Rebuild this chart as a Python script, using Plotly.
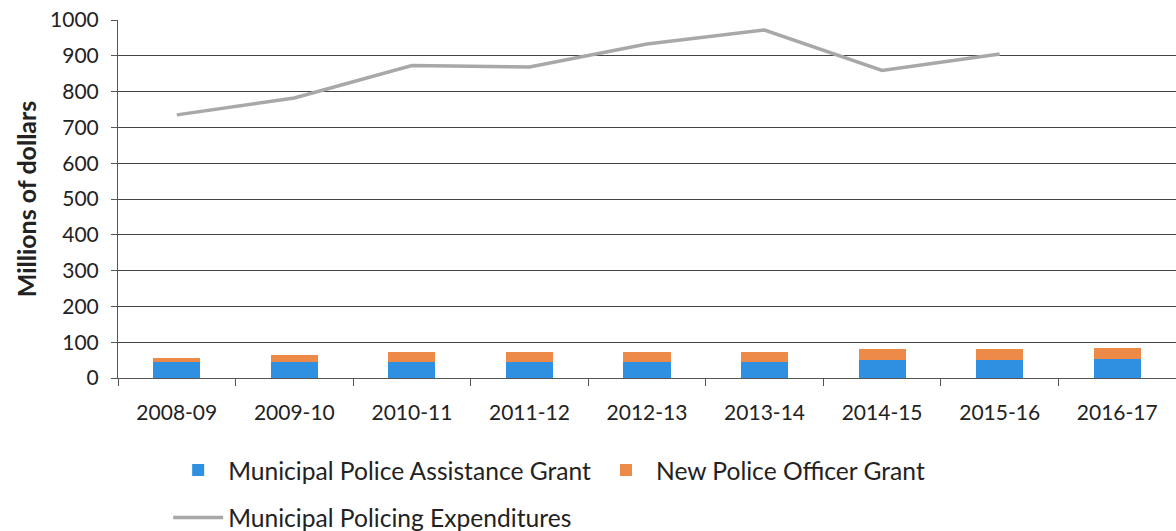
import plotly.graph_objects as go

years = ["2008-09", "2009-10", "2010-11", "2011-12", "2012-13", "2013-14", "2014-15", "2015-16", "2016-17"]
assistance_grant = [46, 46, 46, 45, 44, 44, 51, 51, 53]
new_officer_grant = [9, 18, 26, 27, 28, 28, 30, 30, 32]
policing_expenditures = [735, 782, 873, 869, 933, 972, 859, 905, None]
y_ticks = [0, 100, 200, 300, 400, 500, 600, 700, 800, 900, 1000]

FONT = "Lato"
TXT = "#222222"

fig = go.Figure()
fig.add_trace(go.Bar(
    x=years, y=assistance_grant, name="Municipal Police Assistance Grant",
    marker=dict(color="#2f8fe0", line=dict(width=0)), legend="legend",
))
fig.add_trace(go.Bar(
    x=years, y=new_officer_grant, name="New Police Officer Grant",
    marker=dict(color="#ee8a48", line=dict(width=0)), legend="legend",
))
fig.add_trace(go.Scatter(
    x=years, y=policing_expenditures, name="Municipal Policing Expenditures",
    mode="lines", line=dict(color="#a8a8a8", width=3.5), legend="legend2",
))

fig.update_layout(
    width=1176, height=531,
    barmode="stack", bargap=0.6,
    plot_bgcolor="white", paper_bgcolor="white",
    margin=dict(l=118, r=0, t=20, b=153),
    font=dict(family=FONT, size=21, color=TXT),
    legend=dict(
        orientation="h", xref="container", yref="container",
        x=0.143, y=0.157, xanchor="left", yanchor="top",
        font=dict(family=FONT, size=24.6, color=TXT), traceorder="normal",
        itemwidth=50, tracegroupgap=0,
    ),
    legend2=dict(
        orientation="h", xref="container", yref="container",
        x=0.143, y=0.068, xanchor="left", yanchor="top",
        font=dict(family=FONT, size=24.6, color=TXT), itemwidth=50,
    ),
)
fig.update_xaxes(
    type="category", categoryorder="array", categoryarray=years,
    showline=True, linecolor="#555555", linewidth=1,
    ticks="outside", tickson="boundaries", ticklen=7, tickcolor="#555555",
    showgrid=False, ticklabelstandoff=16,
    tickfont=dict(family=FONT, size=21, color=TXT),
)
fig.update_yaxes(
    range=[0, 1000], tickvals=y_ticks,
    showline=True, linecolor="#555555", linewidth=1,
    ticks="outside", ticklen=6, tickcolor="#555555",
    showgrid=True, gridcolor="#444444", gridwidth=1,
    zeroline=False, ticklabelstandoff=8,
    tickfont=dict(family=FONT, size=21, color=TXT),
    title=dict(text="<b>Millions of dollars</b>", font=dict(family=FONT, size=25, color=TXT), standoff=6),
)

fig.write_html("out.html")
